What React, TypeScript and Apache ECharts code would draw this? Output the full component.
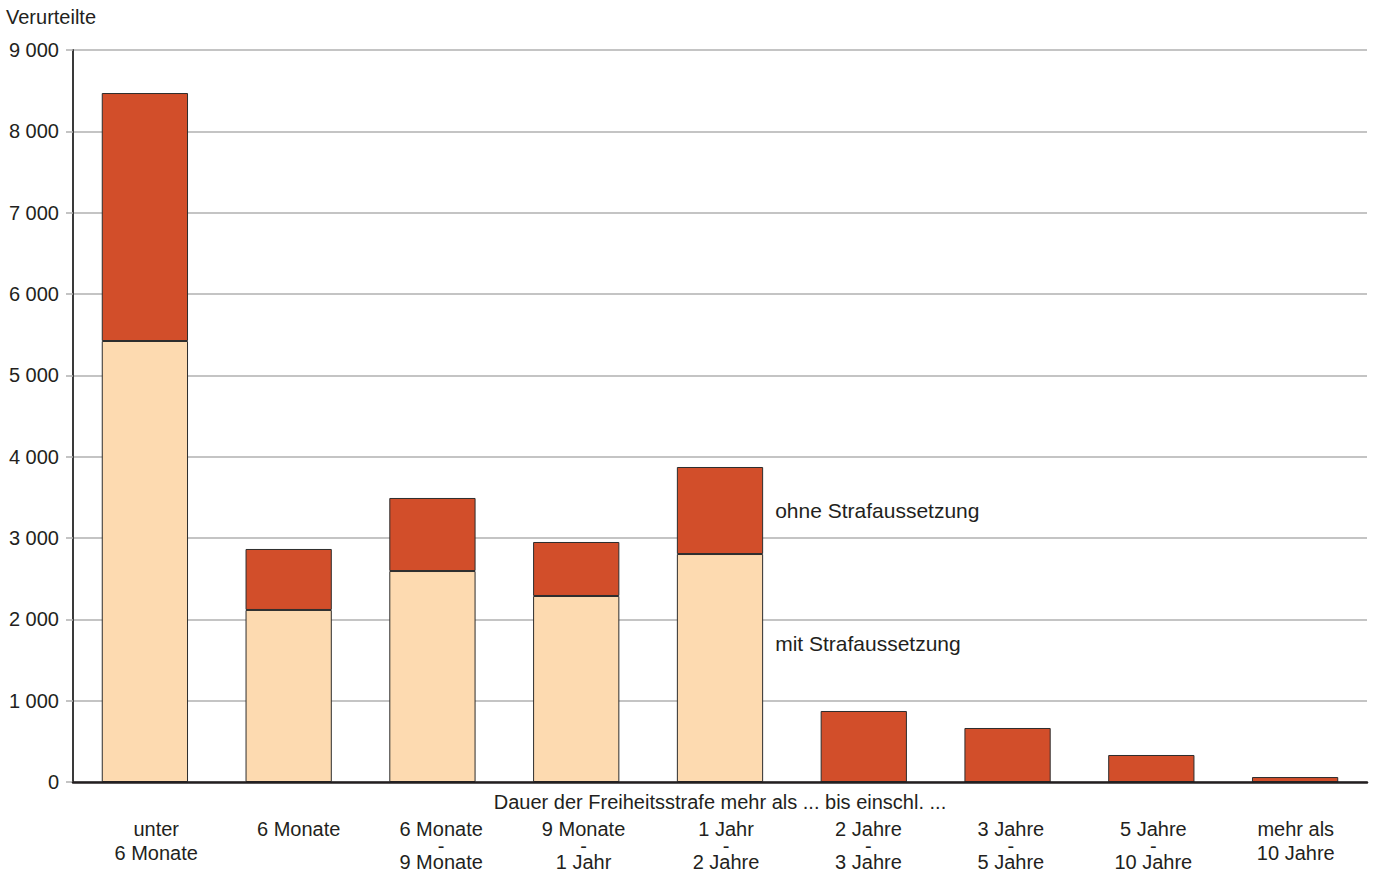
import React, { useEffect, useRef } from "react";
import * as echarts from "echarts";

const categories: string[][] = [
  ["unter", "6 Monate"],
  ["6 Monate"],
  ["6 Monate", "-", "9 Monate"],
  ["9 Monate", "-", "1 Jahr"],
  ["1 Jahr", "-", "2 Jahre"],
  ["2 Jahre", "-", "3 Jahre"],
  ["3 Jahre", "-", "5 Jahre"],
  ["5 Jahre", "-", "10 Jahre"],
  ["mehr als", "10 Jahre"],
];
const mitStrafaussetzung = [5422, 2115, 2594, 2287, 2803, 0, 0, 0, 0];
const ohneStrafaussetzung = [3049, 750, 898, 664, 1070, 873, 664, 332, 61];
const yTicks = [0, 1000, 2000, 3000, 4000, 5000, 6000, 7000, 8000, 9000];
const labelIndex = 4;

const FONT = "Liberation Sans, Arial, Helvetica, sans-serif";
const TEXT = "#231f20";
const FS = 21;

export default function App() {
  const ref = useRef<HTMLDivElement>(null);
  useEffect(() => {
    document.body.style.margin = "0";
    if (!ref.current) return;
    const chart = echarts.init(ref.current, null, { renderer: "svg" });
    const catKeys = categories.map((c) => c.join("|"));
    chart.setOption({
      animation: false,
      textStyle: { fontFamily: FONT, color: TEXT },
      title: {
        text: "Verurteilte",
        left: 6,
        top: 7,
        padding: 0,
        textStyle: { fontFamily: FONT, fontSize: FS - 1, fontWeight: "normal", color: TEXT },
      },
      grid: [
        { left: 73, right: 8, top: 50, bottom: 88, outerBoundsMode: "none", containLabel: false },
        { left: 85, right: 8, top: 50, bottom: 88, outerBoundsMode: "none", containLabel: false },
      ],
      xAxis: [
        {
          type: "category",
          gridIndex: 0,
          data: catKeys,
          name: "Dauer der Freiheitsstrafe mehr als ... bis einschl. ...",
          nameLocation: "middle",
          nameGap: 10,
          nameMoveOverlap: false,
          nameTextStyle: { fontFamily: FONT, fontSize: FS - 1, color: TEXT },
          axisLine: { lineStyle: { color: "#231f20", width: 2.5 } },
          axisTick: { show: false },
          axisLabel: { show: false },
          z: 5,
        },
        {
          type: "category",
          gridIndex: 1,
          data: catKeys,
          axisLine: { show: false },
          axisTick: { show: false },
          splitLine: { show: false },
          axisLabel: {
            interval: 0,
            margin: 35,
            hideOverlap: false,
            fontFamily: FONT,
            fontSize: FS - 1,
            color: TEXT,
            lineHeight: 24,
            formatter: (v: string) => {
              const parts = v.split("|");
              if (parts.length === 3) {
                return `{a|${parts[0]}}\n{d|${parts[1]}}\n{a|${parts[2]}}`;
              }
              return parts.map((p) => `{a|${p}}`).join("\n");
            },
            rich: {
              a: { fontFamily: FONT, fontSize: FS - 1, color: TEXT, lineHeight: 24 },
              d: { fontFamily: FONT, fontSize: FS - 1, color: TEXT, lineHeight: 9 },
            },
          },
        },
      ],
      yAxis: [
        {
          type: "value",
          gridIndex: 0,
          min: yTicks[0],
          max: yTicks[yTicks.length - 1],
          interval: 1000,
          axisLine: { show: true, lineStyle: { color: "#3a3a3a", width: 2 } },
          axisTick: { show: true, length: 7, lineStyle: { color: "#b0b0b0", width: 1.5 } },
          splitLine: { lineStyle: { color: "#b0b0b0", width: 1.5 } },
          axisLabel: {
            margin: 14,
            fontFamily: FONT,
            fontSize: FS - 1,
            color: TEXT,
            formatter: (v: number) => String(v).replace(/\B(?=(\d{3})+(?!\d))/g, " "),
          },
        },
        {
          type: "value",
          gridIndex: 1,
          min: yTicks[0],
          max: yTicks[yTicks.length - 1],
          interval: 1000,
          show: false,
        },
      ],
      series: [
        {
          name: "mit Strafaussetzung",
          type: "bar",
          stack: "total",
          xAxisIndex: 0,
          yAxisIndex: 0,
          barWidth: "60%",
          itemStyle: { color: "#fddab0", borderColor: "#2d2d2d", borderWidth: 1 },
          data: mitStrafaussetzung.map((v, i) =>
            i === labelIndex
              ? {
                  value: v,
                  label: {
                    show: true,
                    position: "right",
                    distance: 12,
                    offset: [0, -25],
                    formatter: "mit Strafaussetzung",
                    fontFamily: FONT,
                    fontSize: FS,
                    color: TEXT,
                  },
                }
              : v
          ),
        },
        {
          name: "ohne Strafaussetzung",
          type: "bar",
          stack: "total",
          xAxisIndex: 0,
          yAxisIndex: 0,
          barWidth: "60%",
          itemStyle: { color: "#d24e2a", borderColor: "#2d2d2d", borderWidth: 1 },
          data: ohneStrafaussetzung.map((v, i) =>
            i === labelIndex
              ? {
                  value: v,
                  label: {
                    show: true,
                    position: "right",
                    distance: 12,
                    formatter: "ohne Strafaussetzung",
                    fontFamily: FONT,
                    fontSize: FS,
                    color: TEXT,
                  },
                }
              : v
          ),
        },
      ],
    });
    return () => chart.dispose();
  }, []);
  return <div ref={ref} style={{ width: 1375, height: 870 }} />;
}
